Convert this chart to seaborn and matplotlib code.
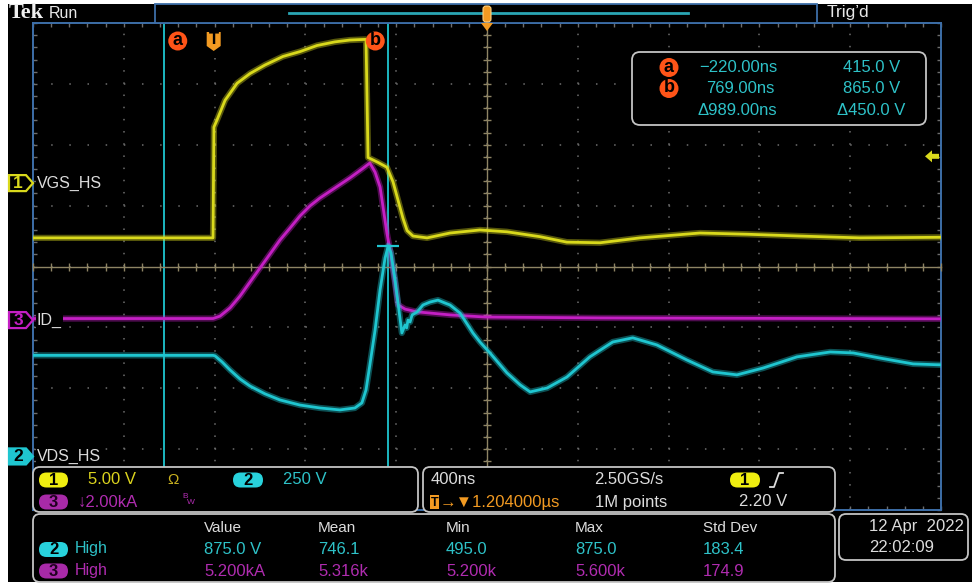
import numpy as np
import seaborn as sns
import matplotlib.pyplot as plt
import matplotlib.transforms as mtransforms
import matplotlib.patheffects as pe
from matplotlib.patches import Polygon, FancyBboxPatch, Rectangle, Circle
from matplotlib.lines import Line2D

plt.rcParams["lines.scale_dashes"] = False
plt.rcParams["font.family"] = ["Liberation Sans", "DejaVu Sans"]

W, H = 972, 584

# horizontal setup (ns)
time_per_div = 400
h_delay = 1204
trig_level = 2.20

# channel setup: units per division, ground position in divisions from centre
ch1_scale, ch1_pos = 5.0, 1.37      # VGS_HS [V]
ch2_scale, ch2_pos = 250.0, -3.12   # VDS_HS [V]
ch3_scale, ch3_pos = 2.0, -0.88     # ID_    [kA]

# cursors (on channel 2)
cursor_t = [-220.0, 769.0]
cursor_v = [415.0, 865.0]

# waveforms
vgs_t = [-796, -3, 1, 15, 50, 103, 160, 226, 305, 380, 455, 534, 600, 662, 671,
         680, 724, 763, 790, 812, 834, 852, 878, 940, 1041, 1173, 1292, 1437,
         1556, 1702, 1878, 2142, 2349, 2583, 2847, 3204]
vgs_v = [-4.5, -4.5, 4.6, 5.2, 6.8, 8.2, 9.0, 9.7, 10.4, 10.8, 11.3, 11.6, 11.75, 11.8, 11.8,
         2.1, 1.7, 1.3, 0.1, -1.4, -2.9, -3.9, -4.35, -4.5, -4.1, -3.85, -4.0, -4.4,
         -4.85, -4.9, -4.5, -4.1, -4.2, -4.35, -4.5, -4.45]

id_t = [-796, -3, 28, 72, 116, 160, 204, 248, 292, 336, 380, 424, 468, 534, 600,
        653, 688, 711, 733, 763, 777, 799, 812, 843, 896, 1041, 1195, 1702, 3204]
id_ka = [0.05, 0.05, 0.13, 0.40, 0.79, 1.25, 1.71, 2.17, 2.63, 3.02, 3.42, 3.75, 4.01, 4.34, 4.67,
         4.96, 5.16, 4.86, 4.37, 2.86, 2.30, 1.22, 0.50, 0.36, 0.27, 0.17, 0.10, 0.07, 0.04]

vds_t = [-796, -3, 6, 37, 72, 116, 160, 226, 292, 380, 468, 556, 622, 653, 671, 688, 711,
         733, 755, 769, 781, 799, 816, 829, 843, 850, 856, 865, 874, 896, 922, 953, 988,
         1019, 1041, 1085, 1142, 1173, 1217, 1292, 1350, 1394, 1469, 1556, 1657, 1758,
         1846, 1952, 2085, 2199, 2305, 2420, 2570, 2716, 2817, 2935, 3081, 3204]
vds_v = [415, 415, 413, 388, 355, 318, 289, 257, 232, 211, 199, 191, 199, 220, 273, 376, 519,
         684, 815, 865, 836, 725, 601, 507, 540, 528, 560, 552, 581, 593, 622, 634, 642,
         630, 622, 589, 507, 470, 425, 343, 294, 265, 281, 326, 409, 470, 487, 458, 396,
         347, 335, 363, 409, 429, 425, 404, 380, 376]

# measurement table
meas_cols = ["Value", "Mean", "Min", "Max", "Std Dev"]
meas_ch2 = ["875.0 V", "746.1", "495.0", "875.0", "183.4"]
meas_ch3 = ["5.200kA", "5.316k", "5.200k", "5.600k", "174.9"]
meas_x = [204, 318, 446, 575, 703]

YEL = "#d9d91c"
CYA = "#1fc6d0"
MAG = "#c41fc4"
ORG = "#f29a22"
RED = "#ff5418"
TXT = "#dcdcdc"
BLUE = "#3d6ea8"
PANEL = "#c4c4c4"
CROSS = "#8e8464"
DOTS = "#6e6e6e"
CTXT = "#2ec2c8"
MTXT = "#b02cb0"
YTXT = "#dcd41e"

fig = plt.figure(figsize=(W / 100, H / 100), dpi=100, facecolor="white")
PX = mtransforms.Affine2D().scale(1, -1).translate(0, H)   # image pixel coords
fig.add_artist(Rectangle((8, 4), W - 8, H - 6, transform=PX, fc="black", ec="none", zorder=-5))


def txt(x, y, s, color=TXT, size=12, **kw):
    kw.setdefault("va", "center")
    return fig.text(x, y, s, transform=PX, color=color, fontsize=size, **kw)


def panel(x0, y0, x1, y1, r=7):
    fig.add_artist(FancyBboxPatch((x0, y0), x1 - x0, y1 - y0,
                                  boxstyle=f"round,pad=0,rounding_size={r}", transform=PX,
                                  fc="black", ec=PANEL, lw=1.3, zorder=2))


def pill(x0, x1, yc, s, color, tcolor="black", h=15):
    fig.add_artist(FancyBboxPatch((x0, yc - h / 2), x1 - x0, h,
                                  boxstyle=f"round,pad=0,rounding_size={h / 2}", transform=PX,
                                  fc=color, ec="none", zorder=3))
    txt((x0 + x1) / 2, yc + 0.5, s, color=tcolor, size=12, ha="center", fontweight="bold", zorder=4)


def to_px(a, x, y):
    dx, dy = a.transData.transform((x, y))
    return dx, H - dy


# graticule
left, right, top, bottom = 33, 941, 23, 510
pos = [left / W, 1 - bottom / H, (right - left) / W, (bottom - top) / H]
t0, t1 = h_delay - 5 * time_per_div, h_delay + 5 * time_per_div

ax = fig.add_axes(pos)
ax.set_facecolor("black")
ax.set_xlim(t0, t1)
ax.set_ylim(-4, 4)
ax.set_xticks(np.arange(t0, t1 + 1, time_per_div))
ax.set_xticks(np.arange(t0, t1 + 1, time_per_div / 5), minor=True)
ax.set_yticks(np.arange(-4, 5))
ax.set_yticks(np.arange(-4, 4.01, 0.2), minor=True)
ax.tick_params(which="both", direction="in", top=True, right=True, labelbottom=False,
               labelleft=False, color=DOTS, length=3, width=1)
dot_v = (bottom - top) / 40 * 0.72
dot_h = (right - left) / 50 * 0.72
ax.xaxis.grid(True, which="major", color=DOTS, lw=1.1, linestyle=(0, (1.1, dot_v - 1.1)))
ax.yaxis.grid(True, which="major", color=DOTS, lw=1.1, linestyle=(0, (1.1, dot_h - 1.1)))
for s in ax.spines.values():
    s.set_color(BLUE)
    s.set_linewidth(1.4)

# centre cross with fine ticks
cx = fig.add_axes(pos, sharex=ax)
cx.patch.set_visible(False)
cx.set_ylim(-4, 4)
cx.set_yticks(np.arange(-4, 5))
cx.set_yticks(np.arange(-4, 4.01, 0.2), minor=True)
cx.spines["left"].set_position(("data", h_delay))
cx.spines["bottom"].set_position(("data", 0))
cx.spines[["top", "right"]].set_visible(False)
for s in ("left", "bottom"):
    cx.spines[s].set_color(CROSS)
    cx.spines[s].set_linewidth(1.0)
cx.tick_params(which="both", direction="inout", length=6, width=1, color=CROSS,
               labelbottom=False, labelleft=False)

# cursor lines
for t in cursor_t:
    ax.axvline(t, color=CYA, lw=1.3)


def channel_axes(t, v, color, scale, gpos):
    a = fig.add_axes(pos, sharex=ax)
    sns.lineplot(x=t, y=v, ax=a, color=color, lw=2.0, sort=False, estimator=None,
                 path_effects=[pe.Stroke(linewidth=4.5, alpha=0.4), pe.Normal()])
    a.set_ylim((-4 - gpos) * scale, (4 - gpos) * scale)
    a.axis("off")
    return a


ax3 = channel_axes(id_t, id_ka, MAG, ch3_scale, ch3_pos)
ax2 = channel_axes(vds_t, vds_v, CYA, ch2_scale, ch2_pos)
ax1 = channel_axes(vgs_t, vgs_v, YEL, ch1_scale, ch1_pos)
ax.set_xlim(t0, t1)
ax2.plot(cursor_t[1], cursor_v[1], marker="_", ms=16, mew=1.6, color=CYA)

# top bar
txt(9, 13, "Tek", size=16, family="Liberation Serif", fontweight="bold", color="#f0f0f0")
txt(49, 13, "Run", size=11.5, color="#e8e8e8")
fig.add_artist(Rectangle((155, 4), 662, 19, transform=PX, fc="black", ec=BLUE, lw=1.3, zorder=2))
fig.add_artist(Line2D([289, 688], [13, 13], transform=PX, color="#2aa6b4", lw=2, zorder=3))
xc, _ = to_px(ax, h_delay, 0)
fig.add_artist(FancyBboxPatch((xc - 4, 6), 8, 16, boxstyle="round,pad=0,rounding_size=3",
                              transform=PX, fc=ORG, ec="#ffd080", lw=0.8, zorder=4))
fig.add_artist(Polygon([(xc - 6, 23), (xc + 6, 23), (xc, 31)], transform=PX, fc=ORG, ec="none", zorder=4))
txt(827, 13, "Trig\u2019d", size=12.5, color="#e8e8e8")

# trigger position shield and cursor labels
xt, _ = to_px(ax, 0, 0)
fig.add_artist(Polygon([(xt - 7, 32), (xt + 7, 32), (xt + 7, 46), (xt, 51), (xt - 7, 46)],
                       transform=PX, fc=ORG, ec="none", zorder=3))
txt(xt, 40, "T", color="black", size=12, ha="center", fontweight="bold", zorder=4)
for t, s, off in zip(cursor_t, ["a", "b"], [14, -13]):
    x, _ = to_px(ax, t, 0)
    fig.add_artist(Circle((x + off, 41), 9.5, transform=PX, fc=RED, ec="none", zorder=3))
    txt(x + off, 40.5, s, color="black", size=13, ha="center", fontweight="bold", zorder=4)

# trigger level arrow (right edge)
_, yl = to_px(ax1, 0, trig_level)
fig.add_artist(Polygon([(925, yl), (932, yl - 6), (932, yl - 2.5), (939, yl - 2.5),
                        (939, yl + 2.5), (932, yl + 2.5), (932, yl + 6)],
                       transform=PX, fc=YEL, ec="none", zorder=3))

# channel ground markers
for a, num, color, filled, label in [(ax1, "1", YEL, False, "VGS_HS"),
                                     (ax3, "3", MAG, False, "ID_"),
                                     (ax2, "2", CYA, True, "VDS_HS")]:
    _, y = to_px(a, 0, 0)
    fig.add_artist(Polygon([(9, y - 8), (26, y - 8), (33, y), (26, y + 8), (9, y + 8)],
                           transform=PX, fc=color if filled else "black", ec=color, lw=1.6, zorder=3))
    txt(18, y + 0.5, num, color="black" if filled else color, size=12.5, ha="center",
        fontweight="bold", zorder=4)
    txt(37, y, label, size=11.5, zorder=4, bbox=dict(fc="black", ec="none", pad=1))

# cursor readout
panel(632, 52, 926, 125, r=8)
dt = cursor_t[1] - cursor_t[0]
dv = cursor_v[1] - cursor_v[0]
rows = [("a", f"{cursor_t[0]:.2f}ns".replace("-", "\u2212"), f"{cursor_v[0]:.1f} V", 67.5, 699, 843),
        ("b", f"{cursor_t[1]:.2f}ns", f"{cursor_v[1]:.1f} V", 88.5, 706, 843),
        (None, f"\u0394{dt:.2f}ns", f"\u0394{dv:.1f} V", 110.5, 698, 837)]
for lab, ts, vs, y, xt_, xv in rows:
    if lab:
        fig.add_artist(Circle((669, y), 9.5, transform=PX, fc=RED, ec="none", zorder=3))
        txt(669, y - 0.5, lab, color="black", size=13, ha="center", fontweight="bold", zorder=4)
    txt(xt_, y, ts, color=CTXT, zorder=4)
    txt(xv, y, vs, color=CTXT, zorder=4)

# channel panel
panel(33, 467, 418, 512)
pill(39, 68, 480, "1", "#f0ee10")
txt(88, 480, f"{ch1_scale:.2f} V", color=YTXT, zorder=4)
txt(167, 480, "\u03a9", color="#c8b020", size=11, zorder=4)
pill(233, 263, 480, "2", "#28d2dc")
txt(283, 480, f"{ch2_scale:.0f} V", color=CTXT, zorder=4)
pill(39, 68, 502, "3", "#a82aa8", tcolor="#200020")
txt(78, 502, f"\u2193{ch3_scale:.2f}kA", color=MTXT, zorder=4)
txt(182, 497, "B", color=MTXT, size=6, zorder=4)
txt(187, 503, "W", color=MTXT, size=6, zorder=4)

# horizontal / trigger panel
panel(423, 467, 835, 512)
txt(431, 480, f"{time_per_div}ns", zorder=4)
txt(594, 480, "2.50GS/s", zorder=4)
pill(730, 760, 480, "1", "#f0ee10")
fig.add_artist(Line2D([770, 774, 779, 783], [487, 487, 473, 473], transform=PX, color=TXT, lw=1.3, zorder=4))
fig.add_artist(Rectangle((430, 495), 9, 14, transform=PX, fc=ORG, ec="none", zorder=3))
txt(434.5, 502.5, "T", color="black", size=9, ha="center", fontweight="bold", zorder=4)
txt(440, 502, f"\u2192\u25bc{h_delay / 1000:.6f}\u00b5s", color=ORG, zorder=4)
txt(595, 502, "1M points", zorder=4)
txt(739, 502, f"{trig_level:.2f} V", zorder=4)

# measurement panel
panel(33, 514, 835, 582)
for x, c in zip(meas_x, meas_cols):
    txt(x, 528, c, size=11, zorder=4)
pill(39, 68, 549.5, "2", "#28d2dc")
pill(39, 68, 571, "3", "#a82aa8", tcolor="#200020")
txt(75, 549, "High", color=CTXT, size=11.5, zorder=4)
txt(75, 571, "High", color=MTXT, size=11.5, zorder=4)
for x, v2, v3 in zip(meas_x, meas_ch2, meas_ch3):
    txt(x, 549, v2, color=CTXT, zorder=4)
    txt(x, 571, v3, color=MTXT, zorder=4)

# date panel
panel(839, 514, 968, 560)
txt(869, 526, "12 Apr  2022", zorder=4)
txt(869, 548, "22:02:09", zorder=4)

fig.savefig("out.png", dpi=100, facecolor=fig.get_facecolor())
